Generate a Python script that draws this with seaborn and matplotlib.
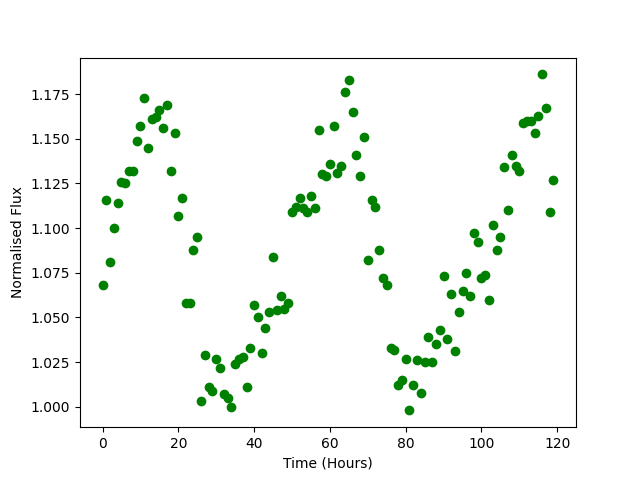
import matplotlib
matplotlib.use('Agg')
import matplotlib.pyplot as plt
import seaborn as sns
import numpy as np

# time in hours (one sample per hour)
hours = np.arange(120)

# normalised flux
flux = [
    1.068, 1.116, 1.081, 1.100, 1.114, 1.126, 1.125, 1.132, 1.132, 1.149,
    1.157, 1.173, 1.145, 1.161, 1.162, 1.166, 1.156, 1.169, 1.132, 1.153,
    1.107, 1.117, 1.058, 1.058, 1.088, 1.095, 1.003, 1.029, 1.011, 1.009,
    1.027, 1.022, 1.007, 1.005, 1.000, 1.024, 1.027, 1.028, 1.011, 1.033,
    1.057, 1.050, 1.030, 1.044, 1.053, 1.084, 1.054, 1.062, 1.055, 1.058,
    1.109, 1.112, 1.117, 1.111, 1.109, 1.118, 1.111, 1.155, 1.130, 1.129,
    1.136, 1.157, 1.131, 1.135, 1.176, 1.183, 1.165, 1.141, 1.129, 1.151,
    1.082, 1.116, 1.112, 1.088, 1.072, 1.068, 1.033, 1.032, 1.012, 1.015,
    1.027, 0.998, 1.012, 1.026, 1.008, 1.025, 1.039, 1.025, 1.035, 1.043,
    1.073, 1.038, 1.063, 1.031, 1.053, 1.065, 1.075, 1.062, 1.097, 1.092,
    1.072, 1.074, 1.060, 1.102, 1.088, 1.095, 1.134, 1.110, 1.141, 1.135,
    1.132, 1.159, 1.160, 1.160, 1.153, 1.163, 1.186, 1.167, 1.109, 1.127,
]

fig, ax = plt.subplots(figsize=(6.4, 4.8), dpi=100)
sns.scatterplot(x=hours, y=flux, color='green', s=36, linewidth=1,
                edgecolor='green', ax=ax)
ax.set_xlabel('Time (Hours)')
ax.set_ylabel('Normalised Flux')
plt.savefig('out.png')
